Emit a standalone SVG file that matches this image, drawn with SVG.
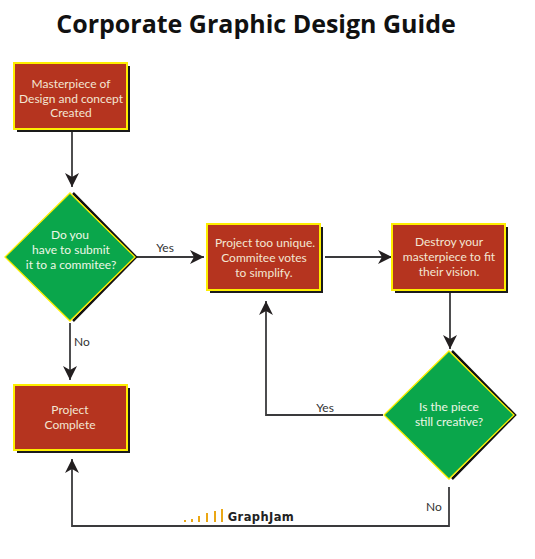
<svg xmlns="http://www.w3.org/2000/svg" width="535" height="559" viewBox="0 0 535 559">
<style>
text{font-family:Lato,"Open Sans",sans-serif;text-anchor:middle}
.t{font-size:12px;fill:#f3e6d3}
.g{font-size:12px;fill:#eef7e6}
.l{font-size:12px;fill:#333}
.box{fill:#b5341f;stroke:#fdee00;stroke-width:2}
.sh{fill:#1a1a1a}
.dia{fill:#0aa64b;stroke:#fdee00;stroke-width:1.3}
.dsh{fill:none;stroke:#111;stroke-width:2.5}
.c{fill:none;stroke:#3a3a3c;stroke-width:1.8}
.bar{fill:#eba714}
</style>
<defs>
<marker id="a" markerUnits="userSpaceOnUse" markerWidth="15" markerHeight="16" refX="14" refY="8" orient="auto"><path d="M0 1L14 8L0 15L4 8Z" fill="#231f20"/></marker>
</defs>
<rect width="535" height="559" fill="#fff"/>
<text x="256" y="33" style="font-family:'Open Sans',sans-serif;font-size:25px;font-weight:700;fill:#111">Corporate Graphic Design Guide</text>
<g id="connectors">
<path class="c" d="M72 131V187" marker-end="url(#a)"/>
<path class="c" d="M137 257H204" marker-end="url(#a)"/>
<path class="c" d="M70 323V380" marker-end="url(#a)"/>
<path class="c" d="M325 257H392" marker-end="url(#a)"/>
<path class="c" d="M450 293V349" marker-end="url(#a)"/>
<path class="c" d="M383 415H266V301" marker-end="url(#a)"/>
<path class="c" d="M449 487V526H72V459" marker-end="url(#a)"/>
<text class="l" x="165" y="252">Yes</text>
<text class="l" x="82" y="346">No</text>
<text class="l" x="325" y="412">Yes</text>
<text class="l" x="434" y="511">No</text>
</g>
<g id="n1"><rect class="sh" x="17" y="66" width="113" height="66"/><rect class="box" x="14" y="63" width="113" height="66"/>
<text class="t" x="71" y="88">Masterpiece of</text><text class="t" x="71" y="103">Design and concept</text><text class="t" x="71" y="117">Created</text></g>
<g id="n2"><path class="dsh" d="M73 193L136 257L73 321"/><path class="dia" d="M70 193L135 257L70 321L5 257Z"/>
<text class="g" x="70" y="239">Do you</text><text class="g" x="71" y="254">have to submit</text><text class="g" x="71" y="269">it to a commitee?</text></g>
<g id="n3"><rect class="sh" x="210" y="227" width="113" height="66"/><rect class="box" x="207" y="224" width="113" height="66"/>
<text class="t" x="265" y="247">Project too unique.</text><text class="t" x="264" y="262">Commitee votes</text><text class="t" x="264" y="277">to simplify.</text></g>
<g id="n4"><rect class="sh" x="395" y="227" width="113" height="66"/><rect class="box" x="392" y="224" width="113" height="66"/>
<text class="t" x="449" y="246">Destroy your</text><text class="t" x="449" y="261">masterpiece to fit</text><text class="t" x="449" y="276">their vision.</text></g>
<g id="n5"><path class="dsh" d="M452 351L515 415L452 479"/><path class="dia" d="M449 351L514 415L449 479L384 415Z"/>
<text class="g" x="449" y="411">Is the piece</text><text class="g" x="449" y="426">still creative?</text></g>
<g id="n6"><rect class="sh" x="17" y="388" width="113" height="65"/><rect class="box" x="14" y="385" width="113" height="65"/>
<text class="t" x="70" y="414">Project</text><text class="t" x="70" y="429">Complete</text></g>
<g id="logo">
<rect class="bar" x="184" y="520" width="2" height="2"/><rect class="bar" x="191" y="519" width="2" height="3"/><rect class="bar" x="198" y="516" width="2" height="6"/><rect class="bar" x="206" y="513" width="2" height="9"/><rect class="bar" x="214" y="511" width="2" height="11"/><rect class="bar" x="221" y="509" width="2" height="13"/>
<text x="261" y="521" style="font-size:11.5px;font-weight:700;fill:#222;letter-spacing:.4px;font-family:'DejaVu Sans',sans-serif">GraphJam</text>
</g>
</svg>
